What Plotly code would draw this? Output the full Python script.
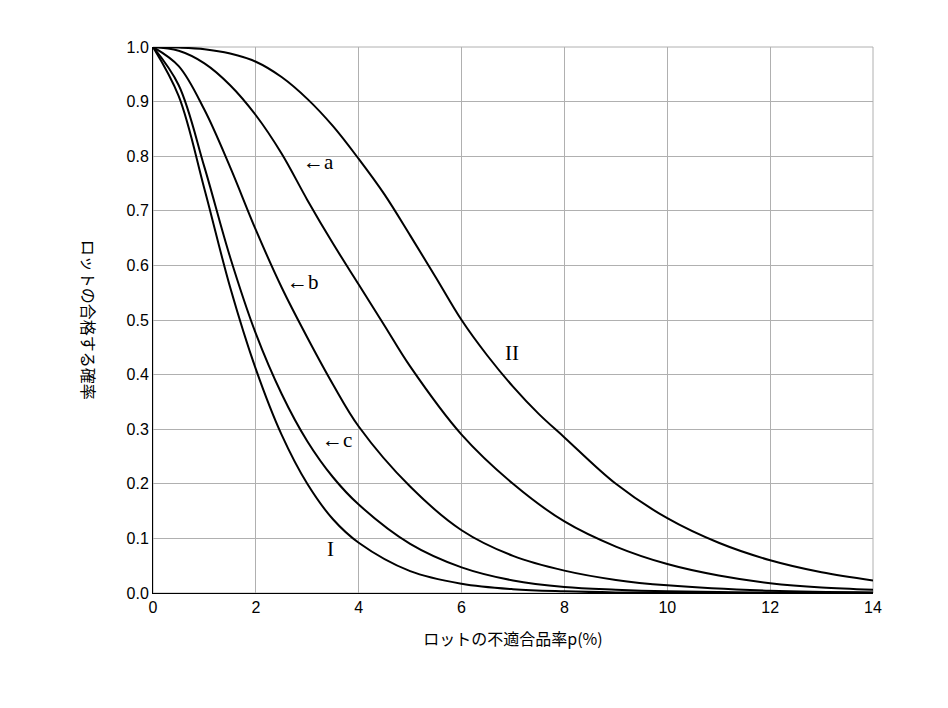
import plotly.graph_objects as go

x_lo = [0, 0.5, 1, 1.5, 2, 2.5, 3, 3.5, 4]
x_I = x_lo + [5, 6, 7, 8, 9, 10, 12, 14]
y_I = [1, 0.91, 0.74, 0.56, 0.41, 0.29, 0.20, 0.135, 0.092, 0.04, 0.017, 0.007, 0.003, 0.001, 0.0005, 0.0001, 0]
x_c = x_lo + [5, 6, 7, 8, 9, 10, 12, 14]
y_c = [1, 0.93, 0.78, 0.615, 0.475, 0.365, 0.278, 0.212, 0.162, 0.09, 0.047, 0.023, 0.011, 0.006, 0.003, 0.001, 0.0003]
x_b = x_lo + [5, 6, 7, 8, 9, 10, 12, 14]
y_b = [1, 0.965, 0.885, 0.78, 0.665, 0.56, 0.468, 0.382, 0.305, 0.195, 0.115, 0.068, 0.041, 0.024, 0.014, 0.004, 0.001]
x_a = x_lo + [4.5, 5, 6, 7, 8, 9, 10, 11, 12, 13, 14]
y_a = [1, 0.993, 0.97, 0.93, 0.875, 0.805, 0.72, 0.64, 0.565, 0.49, 0.415, 0.29, 0.2, 0.131, 0.085, 0.053, 0.032, 0.018, 0.01, 0.006]
x_II = x_lo + [4.5, 5, 5.5, 6, 6.5, 7, 7.5, 8, 9, 10, 11, 12, 13, 14]
y_II = [1, 0.999, 0.996, 0.988, 0.973, 0.945, 0.905, 0.855, 0.795, 0.73, 0.655, 0.578, 0.5, 0.435, 0.378, 0.328, 0.285, 0.2, 0.137, 0.092, 0.06, 0.038, 0.023]

labels = ["←a", "←b", "←c", "I", "II"]
label_x = [3.21, 2.92, 3.58, 3.46, 6.98]
label_y = [0.79, 0.57, 0.28, 0.08, 0.44]

fig = go.Figure()
for xs, ys in [(x_I, y_I), (x_c, y_c), (x_b, y_b), (x_a, y_a), (x_II, y_II)]:
    fig.add_trace(go.Scatter(x=xs, y=ys, mode="lines",
                             line=dict(color="black", width=2, shape="spline", smoothing=1.0),
                             showlegend=False, hoverinfo="skip"))
for t, lx, ly in zip(labels, label_x, label_y):
    fig.add_annotation(x=lx, y=ly, text=t, showarrow=False,
                       font=dict(family="Liberation Serif", size=21, color="black"))

fig.add_annotation(xref="paper", yref="paper", x=-0.108, y=0.5, text="ロットの合格する確率",
                   textangle=90, showarrow=False,
                   font=dict(family="Noto Sans CJK JP", size=16, color="black"))

axis_common = dict(showgrid=True, gridcolor="#b0b0b0", gridwidth=1, zeroline=False,
                   showline=True, linecolor="black", linewidth=1, mirror=False,
                   ticks="", tickfont=dict(family="Liberation Sans", size=16, color="black"))
fig.update_xaxes(range=[0, 14], dtick=2, **axis_common,
                 title=dict(text="ロットの不適合品率p(%)", font=dict(family="Noto Sans CJK JP", size=16, color="black"), standoff=18))
fig.update_yaxes(range=[0, 1], dtick=0.1, tickformat=".1f", **axis_common)
fig.add_shape(type="rect", xref="paper", yref="paper", x0=0, y0=0, x1=1, y1=1,
              line=dict(color="#b0b0b0", width=1), layer="below")
fig.update_layout(width=948, height=708, plot_bgcolor="white", paper_bgcolor="white",
                  margin=dict(l=145, r=83, t=39, b=123))
fig.write_html("out.html")
